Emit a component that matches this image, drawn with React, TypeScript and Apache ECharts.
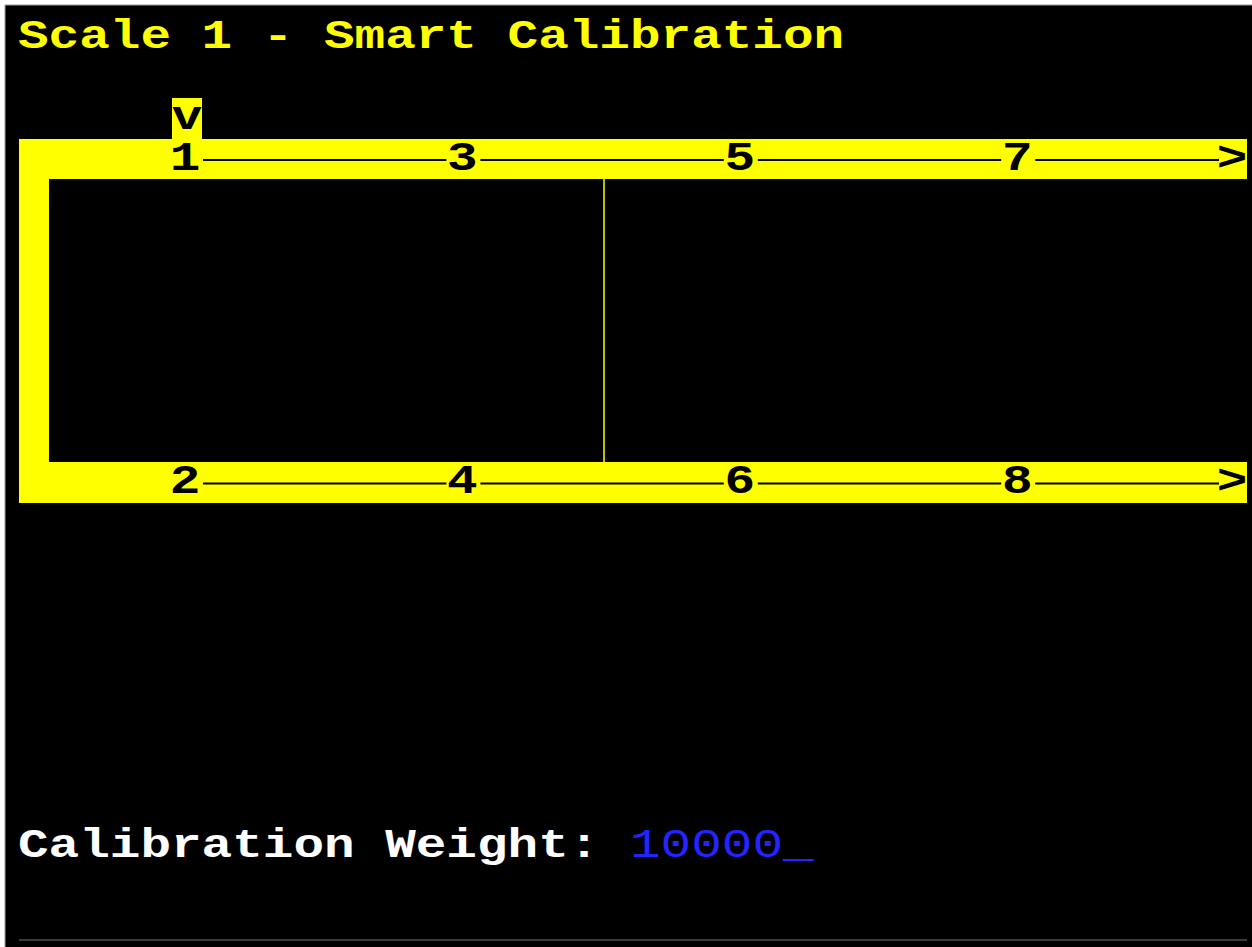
import React, { useEffect, useRef } from "react";
import * as echarts from "echarts";

const titleText = "Scale 1 - Smart Calibration";
const weightLabel = "Calibration Weight: ";
const weightValue = "10000";
const topLabels = ["1", "3", "5", "7"];
const bottomLabels = ["2", "4", "6", "8"];
const markerText = "v";
const arrowText = ">";

const YELLOW = "#ffff00";
const BLUE = "#2424ff";
const FONT_SIZE = 51;
const ADV = FONT_SIZE * 0.6;
const FAMILY = `'Liberation Mono', 'DejaVu Sans Mono', monospace`;
const FONT = `bold ${FONT_SIZE}px ${FAMILY}`;
const FONT_REG = `${FONT_SIZE}px ${FAMILY}`;
const SY = 0.8;

function txt(text: string, x: number, y: number, fill: string, align = "left", font = FONT) {
  return {
    type: "text",
    x,
    y,
    scaleY: SY,
    silent: true,
    style: { text, fill, font, textAlign: align, textVerticalAlign: "middle" },
  };
}

export default function App() {
  const ref = useRef<HTMLDivElement>(null);
  useEffect(() => {
    if (!ref.current) return;
    const chart = echarts.init(ref.current, undefined, { renderer: "svg" });
    const labelX0 = 185;
    const step = 277.4;
    const arrowX = 1232;
    const barL = 19;
    const barR = 1247;
    const topY0 = 139, topY1 = 179;
    const botY0 = 462, botY1 = 503;
    const elements: any[] = [];
    elements.push({ type: "rect", shape: { x: 0, y: 0, width: 1252, height: 947 }, style: { fill: "#ffffff" } });
    elements.push({ type: "rect", shape: { x: 5, y: 5, width: 1252, height: 950 }, style: { fill: "#000000", stroke: "#9a9a9a", lineWidth: 1 } });
    // title
    elements.push(txt(titleText, 18, 37, YELLOW));
    // yellow frame
    elements.push({ type: "rect", shape: { x: barL, y: topY0, width: barR - barL, height: topY1 - topY0 }, style: { fill: YELLOW } });
    elements.push({ type: "rect", shape: { x: barL, y: botY0, width: barR - barL, height: botY1 - botY0 }, style: { fill: YELLOW } });
    elements.push({ type: "rect", shape: { x: barL, y: topY0, width: 30, height: botY1 - topY0 }, style: { fill: YELLOW } });
    // divider
    const divX = Math.round(labelX0 + step * 1.5) + 3;
    elements.push({ type: "line", shape: { x1: divX, y1: topY1, x2: divX, y2: botY0 }, style: { stroke: YELLOW, lineWidth: 1.5 } });
    // marker
    const mx = labelX0;
    elements.push({ type: "rect", shape: { x: mx - 13, y: 98, width: 30, height: topY0 - 98 + 1 }, style: { fill: YELLOW } });
    elements.push(txt(markerText, mx + 2, 118, "#000000", "center"));
    const rows = [
      { labels: topLabels, y: (topY0 + topY1) / 2 },
      { labels: bottomLabels, y: (botY0 + botY1) / 2 },
    ];
    rows.forEach((r) => {
      r.labels.forEach((lab, i) => {
        const x = labelX0 + step * i;
        elements.push(txt(lab, x, r.y, "#000000", "center"));
        const nx = i < r.labels.length - 1 ? labelX0 + step * (i + 1) - 16 : arrowX - 13;
        elements.push({ type: "line", shape: { x1: x + 18, y1: r.y + 1, x2: nx, y2: r.y + 1 }, style: { stroke: "#000000", lineWidth: 2 } });
      });
      elements.push(txt(arrowText, arrowX, r.y, "#000000", "center"));
    });
    // bottom text
    elements.push(txt(weightLabel, 18, 846, "#ffffff"));
    elements.push(txt(weightValue + "_", 18 + ADV * weightLabel.length, 846, BLUE, "left", FONT_REG));
    // bottom rule
    elements.push({ type: "line", shape: { x1: 19, y1: 940, x2: 1247, y2: 940 }, style: { stroke: "#3a3a3a", lineWidth: 2 } });
    chart.setOption({ animation: false, backgroundColor: "#ffffff", graphic: { elements } });
    return () => chart.dispose();
  }, []);
  return <div ref={ref} style={{ position: "fixed", left: 0, top: 0, width: 1252, height: 947 }} />;
}
